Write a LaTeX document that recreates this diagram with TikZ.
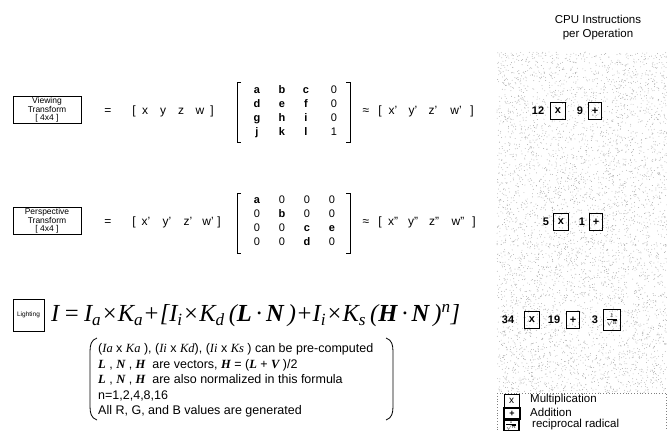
\documentclass[tikz,border=0pt]{standalone}
\usepackage{fontspec}
\setmainfont{Liberation Sans}
\newfontfamily\tms{Liberation Serif}
\newcommand{\lsub}[1]{\textsubscript{#1}}
\newcommand{\recip}{$\frac{1}{\sqrt{n}}$}

\begin{document}
\begin{tikzpicture}[
    x=1pt, y=-1pt,
    lbl/.style={font=\fontsize{12}{14}\selectfont, inner sep=0pt,
                text height=8.5pt, text depth=2.5pt},
    tbox/.style={draw, line width=0.8pt, minimum width=68pt,
                 minimum height=27pt, align=center, inner sep=1pt,
                 font=\fontsize{8.5}{8.7}\selectfont},
    ent/.style={font=\fontsize{11}{12}\selectfont\bfseries, inner sep=0pt,
                text height=8pt, text depth=2pt},
    zer/.style={ent, font=\fontsize{11}{12}\selectfont},
    num/.style={font=\fontsize{11}{12}\selectfont\bfseries, inner sep=0pt},
    mul/.style={draw, line width=0.7pt, minimum width=15pt,
                minimum height=17pt, inner sep=0pt,
                font=\fontsize{11}{12}\selectfont\bfseries},
    add/.style={mul, line width=1.1pt, minimum width=13pt},
    rad/.style={mul, line width=1.1pt, minimum width=17pt,
                minimum height=21pt, font=\fontsize{9}{10}\selectfont},
    note/.style={font=\fontsize{12.5}{14}\selectfont, inner sep=0pt,
                 anchor=west},
    leg/.style={font=\fontsize{11.5}{13}\selectfont, inner sep=0pt,
                anchor=west}
  ]
  \useasboundingbox (0,0) rectangle (667,431);

  % Stippled CPU column
  \pgfmathsetseed{42}
  \foreach \k in {1,...,5000} {
    \fill[gray!65] ({497+170*rnd}, {52+341*rnd}) circle (0.45);
  }
  \node[font=\fontsize{11.5}{14}\selectfont, align=center] (cpu)
    at (598,28) {CPU Instructions\\per Operation};

  % Row 1: viewing transform
  \node[tbox] (view) at (47,110) {Viewing\\Transform\\{[ 4x4 ]}};
  \node[lbl] (eq1) at (108,111) {=};
  \foreach \i/\x/\v in {0/134/[, 1/145/x, 2/163/y, 3/181/z, 4/200/w, 5/212/]} {
    \node[lbl] (vin\i) at (\x,111) {\v};
  }
  \draw[line width=0.8pt] (241,82) -- (237,82) -- (237,142) -- (241,142);
  \draw[line width=0.8pt] (346,82) -- (350,82) -- (350,142) -- (346,142);
  \foreach \c/\x/\s/\p/\q/\u/\w in {1/257/ent/a/d/g/j, 2/282/ent/b/e/h/k,
                                  3/306/ent/c/f/i/l, 4/334/zer/0/0/0/1} {
    \node[\s] (v1\c) at (\x,90) {\p};
    \node[\s] (v2\c) at (\x,104) {\q};
    \node[\s] (v3\c) at (\x,118) {\u};
    \node[\s] (v4\c) at (\x,132) {\w};
  }
  \node[lbl] (ap1) at (366,111) {≈};
  \foreach \i/\x/\v in {0/380/[, 1/393/x', 2/413/y', 3/433/z', 4/456/w', 5/472/]} {
    \node[lbl] (vout\i) at (\x,111) {\v};
  }
  \node[num] (n12) at (538,111) {12};
  \node[mul] (mx1) at (558,111) {x};
  \node[num] (n9) at (580,111) {9};
  \node[add] (ad1) at (595,111) {+};

  % Row 2: perspective transform
  \node[tbox] (persp) at (47,221) {Perspective\\Transform\\{[ 4x4 ]}};
  \node[lbl] (eq2) at (108,222) {=};
  \foreach \i/\x/\v in {0/134/[, 1/146/x', 2/167/y', 3/188/z', 4/208/w', 5/219/]} {
    \node[lbl] (pin\i) at (\x,222) {\v};
  }
  \draw[line width=0.8pt] (241,193) -- (237,193) -- (237,253) -- (241,253);
  \draw[line width=0.8pt] (346,193) -- (350,193) -- (350,253) -- (346,253);
  \foreach \r/\c/\s/\v in {1/1/ent/a, 1/2/zer/0, 1/3/zer/0, 1/4/zer/0,
                          2/1/zer/0, 2/2/ent/b, 2/3/zer/0, 2/4/zer/0,
                          3/1/zer/0, 3/2/zer/0, 3/3/ent/c, 3/4/ent/e,
                          4/1/zer/0, 4/2/zer/0, 4/3/ent/d, 4/4/zer/0} {
    \node[\s] (p\r\c) at ({232+\c*25}, {186+\r*14}) {\v};
  }
  \node[lbl] (ap2) at (366,222) {≈};
  \foreach \i/\x/\v in {0/380/[, 1/393/x'', 2/413/y'', 3/434/z'', 4/458/w'', 5/474/]} {
    \node[lbl] (pout\i) at (\x,222) {\v};
  }
  \node[num] (n5) at (546,222) {5};
  \node[mul] (mx2) at (561,222) {x};
  \node[num] (n1) at (582,222) {1};
  \node[add] (ad2) at (596,222) {+};

  % Row 3: lighting
  \node[tbox, minimum width=31pt, minimum height=32pt,
        font=\fontsize{6.5}{7.5}\selectfont] (light) at (28.5,315) {Lighting};
  \node[font=\tms\fontsize{24.5}{28}\selectfont\itshape, inner sep=0pt,
        anchor=west] (phong) at (51,316)
    {I\,=\,I\lsub{a}×K\lsub{a}+[I\lsub{i}×K\lsub{d}\,(\textbf{L}\,·\,\textbf{N}\,)+I\lsub{i}×K\lsub{s}\,(\textbf{H}\,·\,\textbf{N}\,)\textsuperscript{n}]};
  \node[num] (n34) at (508,320) {34};
  \node[mul] (mx3) at (532,320) {x};
  \node[num] (n19) at (554,320) {19};
  \node[add] (ad3) at (573,320) {+};
  \node[num] (n3) at (595,320) {3};
  \node[rad] (rd3) at (612,320) {\recip};

  % Notes on the lighting formula
  \draw[line width=0.8pt] (97,338) .. controls (91,340) and (90,345) .. (90,352)
    -- (90,406) .. controls (90,413) and (91,418) .. (97,420);
  \draw[line width=0.8pt] (386,338) .. controls (392,340) and (393,345) .. (393,352)
    -- (393,406) .. controls (393,413) and (392,418) .. (386,420);
  \node[note] (l1) at (98,349)
    {({\tms\itshape Ia} x {\tms\itshape Ka} ), ({\tms\itshape Ii} x {\tms\itshape Kd}), ({\tms\itshape Ii} x {\tms\itshape Ks} ) can be pre-computed};
  \node[note] (l2) at (98,365)
    {{\tms\bfseries\itshape L} , {\tms\bfseries\itshape N} , {\tms\bfseries\itshape H} \ are vectors, {\tms\bfseries\itshape H} = ({\tms\bfseries\itshape L} + {\tms\bfseries\itshape V} )/2};
  \node[note] (l3) at (98,380)
    {{\tms\bfseries\itshape L} , {\tms\bfseries\itshape N} , {\tms\bfseries\itshape H} \ are also normalized in this formula};
  \node[note] (l4) at (98,396) {n=1,2,4,8,16};
  \node[note] (l5) at (98,411) {All R, G, and B values are generated};

  % Legend
  \fill[white] (497,393) rectangle (667,431);
  \draw[dotted, gray, thick] (497,393) rectangle (666.5,431);
  \node[mul, minimum width=15pt, minimum height=13pt,
        font=\fontsize{10}{11}\selectfont] (lmul) at (511.5,401) {x};
  \node[leg] (lmultxt) at (530,400) {Multiplication};
  \node[add, line width=2pt, minimum width=16pt, minimum height=11pt,
        font=\fontsize{9}{10}\selectfont\bfseries] (ladd) at (512,413.5) {+};
  \node[leg] (laddtxt) at (530,412.5) {Addition};
  \node[rad, line width=2pt, minimum width=15pt, minimum height=11pt,
        font=\fontsize{6}{7}\selectfont] (lrad) at (511,425) {\recip};
  \node[leg] (lradtxt) at (532,425) {reciprocal radical};
\end{tikzpicture}
\end{document}
